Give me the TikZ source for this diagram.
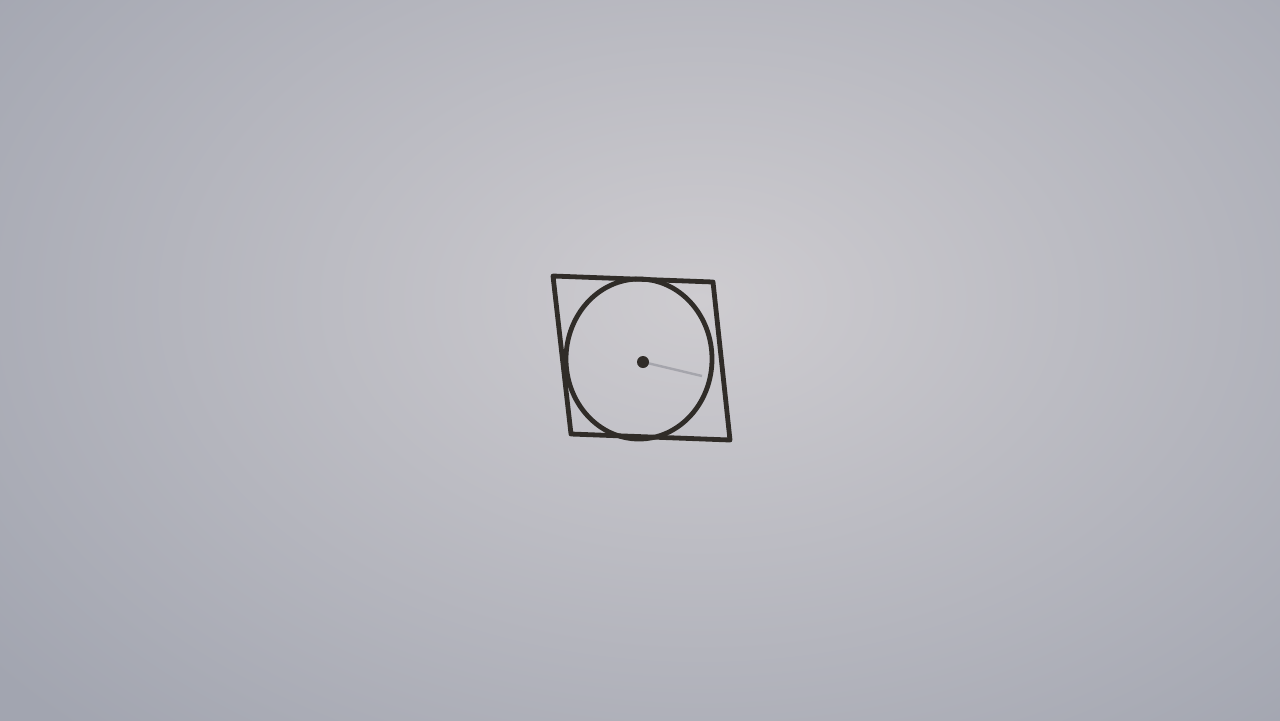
\documentclass[tikz,border=0pt]{standalone}
\usetikzlibrary{calc}
\definecolor{paperin}{RGB}{206,204,208}
\definecolor{paperout}{RGB}{162,165,176}
\definecolor{ink}{RGB}{48,44,40}
\definecolor{pencil}{RGB}{165,165,172}
\tikzset{inkline/.style={draw=ink,line width=2.4pt,line join=round,line cap=round}}
\begin{document}
\begin{tikzpicture}[x=0.5pt,y=-0.5pt]
\useasboundingbox (0,0) rectangle (1280,720);
\shade[inner color=paperin,outer color=paperout] (-200,-300) rectangle (1600,900);
\coordinate (tl) at (553,276);
\coordinate (tr) at (713,282);
\coordinate (br) at (730,440);
\coordinate (bl) at (571,434);
\draw[inkline] (tl) -- (tr) -- (br) -- (bl) -- cycle;
\coordinate (c) at (639,359);
\draw[inkline] (c) ellipse [x radius=73, y radius=80];
\coordinate (d) at (643,362);
\coordinate (e) at (702,376);
\draw[pencil,line width=1.2pt] (d) -- (e);
\fill[ink] (d) circle [radius=6];
\end{tikzpicture}
\end{document}
